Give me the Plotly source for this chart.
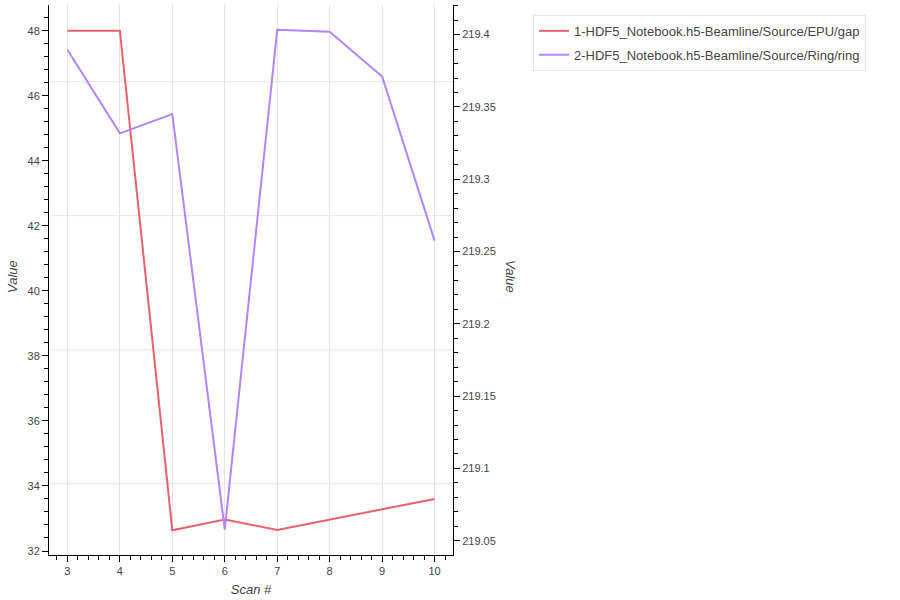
import plotly.graph_objects as go

scan = [3, 4, 5, 6, 7, 8, 9, 10]
gap = [48.0, 48.0, 32.64, 32.97, 32.65, 32.97, 33.29, 33.6]
ring = [219.3896, 219.3317, 219.3451, 219.0576, 219.4033, 219.4020, 219.3710, 219.2575]
names = ["1-HDF5_Notebook.h5-Beamline/Source/EPU/gap",
         "2-HDF5_Notebook.h5-Beamline/Source/Ring/ring"]
colors = ["#e8626a", "#b683ff"]
hgrid = [0.8605, 0.617, 0.373, 0.1296]

FONT = "Liberation Sans, Arial, Helvetica, sans-serif"
fig = go.Figure()
fig.add_trace(go.Scatter(x=scan, y=gap, mode="lines", name=names[0], legendgroup="a",
                         line=dict(color=colors[0], width=2), yaxis="y"))
fig.add_trace(go.Scatter(x=scan, y=ring, mode="lines", name=names[1], legendgroup="b",
                         line=dict(color=colors[1], width=2), yaxis="y2"))

axis_common = dict(showline=True, linecolor="black", linewidth=1, ticks="outside",
                   ticklen=6, tickcolor="black", tickfont=dict(family=FONT, size=11, color="#444"),
                   zeroline=False)

fig.update_layout(
    width=900, height=600,
    margin=dict(l=49, r=447, t=5, b=45),
    paper_bgcolor="white", plot_bgcolor="white",
    font=dict(family=FONT, color="#444"),
    showlegend=True,
    legend=dict(x=1.198, y=0.982, xanchor="left", yanchor="top",
                bordercolor="#e5e5e5", borderwidth=1, bgcolor="white",
                font=dict(family=FONT, size=13, color="#444"),
                traceorder="grouped", tracegroupgap=4),
    xaxis=dict(range=[2.649, 10.351], dtick=1, tick0=3, showgrid=True, gridcolor="#e5e5e5",
               minor=dict(dtick=0.2, ticklen=4, ticks="outside", tickcolor="black", showgrid=False),
               title=dict(text="<i>Scan #</i>", font=dict(family=FONT, size=13, color="#444"), standoff=8),
               **axis_common),
    yaxis=dict(range=[31.877, 48.79], dtick=2, tick0=32, showgrid=False,
               minor=dict(dtick=0.4, ticklen=4, ticks="outside", tickcolor="black", showgrid=False),
               **axis_common),
    yaxis2=dict(range=[219.0401, 219.4205], dtick=0.05, tick0=219.05, showgrid=False,
                overlaying="y", side="right",
                minor=dict(dtick=0.01, ticklen=4, ticks="outside", tickcolor="black", showgrid=False),
                **axis_common),
    shapes=[dict(type="line", xref="paper", yref="paper", x0=0, x1=1, y0=g, y1=g,
                 line=dict(color="#e5e5e5", width=1), layer="below") for g in hgrid],
    annotations=[
        dict(text="<i>Value</i>", xref="paper", yref="paper", x=(12 - 49) / 404, y=(555 - 277) / 550,
             xanchor="center", yanchor="middle",
             showarrow=False, textangle=-90, font=dict(family=FONT, size=13, color="#444")),
        dict(text="<i>Value</i>", xref="paper", yref="paper", x=(511 - 49) / 404, y=(555 - 277) / 550,
             xanchor="center", yanchor="middle",
             showarrow=False, textangle=90, font=dict(family=FONT, size=13, color="#444")),
    ],
)

fig.write_html("out.html")
